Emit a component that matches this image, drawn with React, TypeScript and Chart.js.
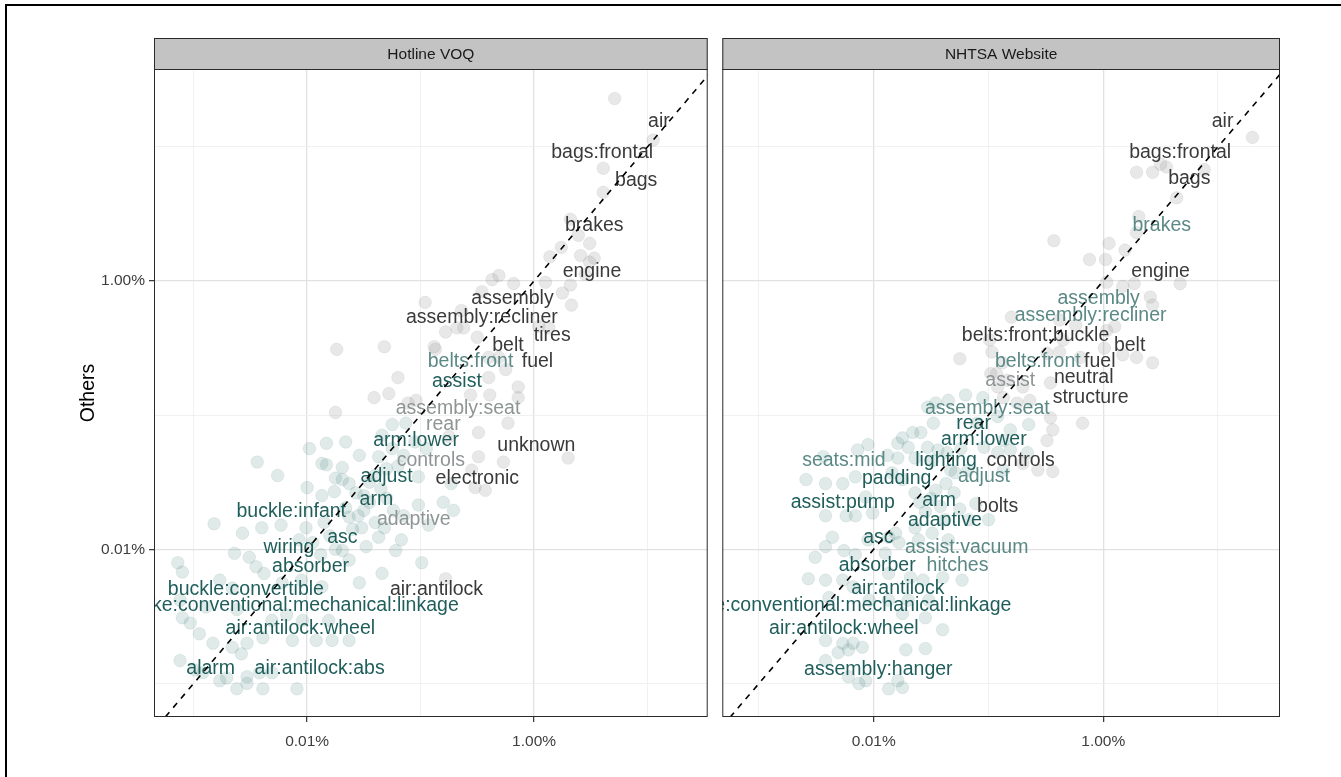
import React, { useEffect, useRef } from "react";
import { Chart, registerables } from "chart.js";

Chart.register(...registerables);

const FONT = "'Liberation Sans', Arial, Helvetica, sans-serif";

// ---- axis breaks (values in percent) ----
const majorTicks = [0.01, 1];
const minorTicks = [0.001, 0.1, 10];
const tickLabels = ["0.01%", "1.00%"];
const panelTitles = ["Hotline VOQ", "NHTSA Website"];
const yAxisTitle = "Others";

// axis limits (percent)
const hotlineXLimits = [0.000447, 33.9];
const websiteXLimits = [0.000479, 34.7];
const yLimits = [0.000562, 38.0];

// reference line y = x (percent)
const identityLine = [0.0001, 100];

// ---- points: [log10(x %), log10(y %)] ----
const hotlineGrayPoints: [number, number][] = [
  [0.71, 1.36], [1.05, 1.05], [0.61, 0.84], [0.61, 0.66], [0.32, 0.46], [0.39, 0.34], [0.49, 0.28],
  [0.24, 0.25], [0.14, 0.18], [0.41, 0.19], [0.53, 0.17], [0.49, 0.14], [-0.31, 0.04], [-0.37, 0.01],
  [0.10, -0.01], [0.32, -0.03], [-0.46, -0.08], [0.25, -0.09], [0.33, -0.18], [-0.96, -0.16],
  [-0.64, -0.22], [-0.78, -0.38], [-0.68, -0.35], [-0.62, -0.35], [-0.50, -0.42], [0.13, -0.35],
  [0.04, -0.34], [-1.74, -0.51], [-1.32, -0.49], [-0.88, -0.49], [-0.25, -0.66], [-0.31, -0.57],
  [-1.20, -0.72], [-0.87, -0.51], [-0.40, -0.57], [-0.40, -0.72], [-0.14, -0.79], [-0.14, -0.87],
  [-0.23, -1.06], [-0.39, -0.85], [-0.56, -0.85], [-1.04, -0.89], [-1.11, -0.91], [-1.28, -0.84],
  [-1.41, -0.87], [-1.75, -0.98], [-0.49, -1.13], [-0.75, -1.16], [-0.49, -1.31], [0.30, -1.32],
  [-0.55, -1.41], [-0.52, -1.54], [-0.43, -1.56], [-0.78, -2.22], [-0.27, -1.35], [-0.18, -0.02],
  [0.45, 0.05],
];

const hotlineTealPoints: [number, number][] = [
  [-1.13, -1.06], [-1.25, -1.07], [-1.34, -1.15], [-1.83, -1.21], [-1.98, -1.25], [-1.66, -1.20],
  [-1.54, -1.30], [-1.37, -1.31], [-1.87, -1.36], [-1.69, -1.39], [-1.69, -1.48], [-1.75, -1.47],
  [-1.63, -1.51], [-1.02, -1.46], [-0.73, -1.51], [-2.44, -1.35], [-2.26, -1.45], [-1.83, -1.37],
  [-1.76, -1.57], [-1.87, -1.60], [-2.00, -1.54], [-1.57, -1.58], [-1.66, -1.69], [-1.63, -1.76],
  [-1.52, -1.84], [-1.37, -1.91], [-2.82, -1.81], [-2.57, -1.88], [-2.40, -1.84], [-2.23, -1.82],
  [-2.01, -1.84], [-2.07, -1.93], [-2.64, -2.03], [-2.51, -2.06], [-3.14, -2.10], [-3.10, -2.17],
  [-2.45, -2.13], [-2.38, -2.18], [-1.88, -2.04], [-1.69, -2.01], [-1.48, -1.98], [-1.22, -2.01],
  [-0.99, -2.10], [-1.34, -2.18], [-1.54, -2.25], [-1.87, -2.28], [-2.05, -2.23], [-2.22, -2.25],
  [-2.77, -2.23], [-2.66, -2.29], [-3.12, -2.38], [-2.89, -2.43], [-2.62, -2.45], [-3.10, -2.51],
  [-3.03, -2.55], [-2.18, -2.49], [-2.31, -2.53], [-2.04, -2.53], [-1.81, -2.53], [-1.63, -2.68],
  [-1.78, -2.68], [-1.92, -2.68], [-2.13, -2.68], [-2.39, -2.66], [-2.53, -2.70], [-2.66, -2.73],
  [-2.83, -2.70], [-2.95, -2.63], [-2.58, -2.78], [-3.12, -2.83], [-2.99, -2.90], [-2.92, -2.92],
  [-2.71, -2.96], [-2.53, -2.95], [-2.42, -2.92], [-2.31, -2.92], [-2.53, -3.00], [-2.39, -3.04],
  [-2.62, -3.04], [-2.09, -3.04], [-2.77, -2.98], [-1.50, -1.71], [-1.24, -1.71], [-1.15, -1.75],
  [-1.02, -1.67], [-1.32, -1.84], [-1.17, -1.93], [-1.63, -2.08], [-0.93, -1.82], [-0.80, -1.65],
  [-0.71, -1.71], [-1.40, -1.45], [-1.45, -1.50], [-1.35, -1.55], [-1.50, -1.60], [-1.45, -1.65],
  [-1.30, -1.62], [-1.55, -1.75], [-1.40, -1.80], [-1.60, -1.85], [-1.25, -1.25], [-1.15, -1.30],
  [-1.05, -1.20], [-0.95, -1.25], [-1.20, -1.38], [-1.30, -1.40], [-1.85, -1.80], [-1.80, -1.90],
  [-1.95, -1.95], [-1.75, -2.00],
];

const websiteGrayPoints: [number, number][] = [
  [1.30, 1.07], [0.50, 0.87], [0.55, 0.85], [0.29, 0.81], [0.43, 0.81], [0.88, 0.83], [0.64, 0.62],
  [0.31, 0.48], [0.29, 0.36], [0.05, 0.28], [0.19, 0.23], [-0.43, 0.30], [-0.12, 0.16], [0.02, 0.16],
  [0.03, -0.01], [0.17, -0.04], [0.27, -0.02], [0.67, -0.02], [0.43, -0.18], [-0.80, -0.27],
  [-0.38, -0.29], [-0.24, -0.33], [0.10, -0.34], [0.01, -0.50], [0.17, -0.55], [0.29, -0.57],
  [0.43, -0.61], [-1.25, -0.58], [-0.97, -0.53], [-0.99, -0.44], [-0.38, -0.53], [-0.20, -0.57],
  [-0.93, -0.69], [0.41, -0.12], [0.03, -0.37], [-0.35, -0.44], [-0.49, -0.54], [-0.88, -0.61],
  [-0.98, -0.69], [-0.84, -0.74], [-0.92, -0.79], [-0.46, -0.76], [-0.46, -1.02], [-0.44, -1.11],
  [-0.18, -1.06], [-0.44, -1.42], [-0.70, -1.36], [-0.57, -1.41], [-0.49, -1.19], [-0.64, -0.89],
  [-0.70, -0.79], [-0.75, -0.91], [-0.87, -0.87],
];

const websiteTealPoints: [number, number][] = [
  [-1.05, -0.87], [-1.20, -0.85], [-1.35, -0.89], [-1.53, -0.94], [-1.46, -0.91], [-0.65, -1.07],
  [-0.81, -1.11], [-0.92, -1.01], [-0.87, -1.19], [-1.10, -1.06], [-1.48, -1.06], [-1.59, -1.13],
  [-1.66, -1.13], [-1.75, -1.17], [-1.70, -1.24], [-1.79, -1.21], [-1.88, -1.30], [-1.53, -1.24],
  [-1.44, -1.26], [-1.36, -1.28], [-1.24, -1.25], [-1.04, -1.24], [-0.92, -1.28], [-0.81, -1.26],
  [-0.66, -1.28], [-2.14, -1.26], [-2.05, -1.22], [-1.33, -1.41], [-1.18, -1.41], [-0.87, -1.41],
  [-2.44, -1.31], [-1.79, -1.32], [-1.64, -1.32], [-1.49, -1.34], [-1.29, -1.43], [-1.37, -1.51],
  [-1.46, -1.56], [-1.75, -1.48], [-1.84, -1.43], [-2.16, -1.46], [-2.27, -1.51], [-2.42, -1.51],
  [-2.59, -1.48], [-2.07, -1.61], [-2.01, -1.73], [-2.42, -1.75], [-2.24, -1.75], [-2.16, -1.75],
  [-1.64, -1.58], [-1.11, -1.66], [-1.00, -1.78], [-1.17, -1.78], [-1.64, -1.84], [-1.49, -1.88],
  [-1.35, -1.93], [-1.61, -1.93], [-1.78, -1.95], [-1.81, -1.88], [-1.87, -1.91], [-2.36, -1.91],
  [-2.42, -1.98], [-2.26, -2.01], [-2.16, -2.04], [-2.05, -1.93], [-1.90, -2.03], [-2.51, -2.06],
  [-2.57, -2.22], [-2.42, -2.23], [-2.27, -2.23], [-2.18, -2.28], [-1.87, -2.18], [-1.68, -2.21],
  [-1.57, -2.23], [-1.40, -2.21], [-1.23, -2.23], [-1.52, -2.38], [-1.70, -2.38], [-1.87, -2.38],
  [-2.04, -2.38], [-2.39, -2.36], [-1.75, -2.48], [-1.55, -2.51], [-1.40, -2.60], [-2.42, -2.68],
  [-2.27, -2.70], [-2.18, -2.70], [-2.10, -2.73], [-2.22, -2.75], [-2.31, -2.77], [-1.72, -2.75],
  [-1.55, -2.74], [-2.13, -3.00], [-2.22, -2.95], [-2.07, -2.98], [-1.79, -2.98], [-1.75, -3.03],
  [-1.87, -3.04], [-2.42, -2.83], [-1.50, -1.62], [-1.42, -1.68], [-1.55, -1.72], [-1.38, -1.78],
  [-1.60, -1.65], [-1.30, -1.58], [-1.25, -1.70],
];

// ---- text labels: [text, log10(x %), log10(y %), tone] ----
type Label = [string, number, number, string];

const hotlineLabels: Label[] = [
  ["air", 1.10, 1.19, "dark"],
  ["bags:frontal", 0.60, 0.96, "dark"],
  ["bags", 0.90, 0.75, "dark"],
  ["brakes", 0.53, 0.41, "dark"],
  ["engine", 0.51, 0.07, "dark"],
  ["assembly", -0.19, -0.13, "dark"],
  ["assembly:recliner", -0.46, -0.27, "dark"],
  ["tires", 0.16, -0.41, "dark"],
  ["belt", -0.23, -0.48, "dark"],
  ["belts:front", -0.56, -0.60, "mid"],
  ["fuel", 0.03, -0.60, "dark"],
  ["assist", -0.68, -0.75, "teal"],
  ["assembly:seat", -0.67, -0.95, "light"],
  ["rear", -0.80, -1.07, "light"],
  ["arm:lower", -1.04, -1.19, "teal"],
  ["unknown", 0.02, -1.23, "dark"],
  ["controls", -0.91, -1.34, "light"],
  ["adjust", -1.30, -1.46, "teal"],
  ["electronic", -0.50, -1.47, "dark"],
  ["arm", -1.39, -1.63, "teal"],
  ["buckle:infant", -2.14, -1.72, "teal"],
  ["adaptive", -1.06, -1.78, "light"],
  ["asc", -1.69, -1.91, "teal"],
  ["wiring", -2.16, -1.99, "teal"],
  ["absorber", -1.97, -2.13, "teal"],
  ["buckle:convertible", -2.54, -2.30, "teal"],
  ["air:antilock", -0.86, -2.30, "dark"],
  ["brake:conventional:mechanical:linkage", -2.14, -2.42, "teal"],
  ["air:antilock:wheel", -2.06, -2.59, "teal"],
  ["alarm", -2.85, -2.89, "teal"],
  ["air:antilock:abs", -1.89, -2.89, "teal"],
];

const websiteLabels: Label[] = [
  ["air", 1.04, 1.19, "dark"],
  ["bags:frontal", 0.67, 0.96, "dark"],
  ["bags", 0.75, 0.76, "dark"],
  ["brakes", 0.51, 0.41, "mid"],
  ["engine", 0.50, 0.07, "dark"],
  ["assembly", -0.04, -0.13, "mid"],
  ["assembly:recliner", -0.11, -0.26, "mid"],
  ["belts:front:buckle", -0.59, -0.41, "dark"],
  ["belt", 0.23, -0.48, "dark"],
  ["belts:front", -0.57, -0.60, "mid"],
  ["fuel", -0.03, -0.60, "dark"],
  ["neutral", -0.17, -0.72, "dark"],
  ["assist", -0.81, -0.74, "light"],
  ["structure", -0.11, -0.87, "dark"],
  ["assembly:seat", -1.01, -0.95, "mid"],
  ["rear", -1.13, -1.06, "teal"],
  ["arm:lower", -1.04, -1.18, "teal"],
  ["seats:mid", -2.26, -1.34, "mid"],
  ["lighting", -1.37, -1.34, "teal"],
  ["controls", -0.72, -1.34, "dark"],
  ["padding", -1.80, -1.47, "teal"],
  ["adjust", -1.04, -1.46, "mid"],
  ["assist:pump", -2.27, -1.65, "teal"],
  ["arm", -1.43, -1.64, "teal"],
  ["bolts", -0.92, -1.68, "dark"],
  ["adaptive", -1.38, -1.79, "teal"],
  ["asc", -1.96, -1.91, "teal"],
  ["assist:vacuum", -1.19, -1.99, "mid"],
  ["absorber", -1.97, -2.12, "teal"],
  ["hitches", -1.27, -2.12, "mid"],
  ["air:antilock", -1.79, -2.29, "teal"],
  ["brake:conventional:mechanical:linkage", -2.26, -2.42, "teal"],
  ["air:antilock:wheel", -2.26, -2.59, "teal"],
  ["assembly:hanger", -1.96, -2.90, "teal"],
];

const toneColors: Record<string, string> = {
  dark: "#3a3a3a",
  teal: "#1f5e5b",
  mid: "#5b8986",
  light: "#8e9595",
};

const toPoints = (arr: [number, number][]) => arr.map(([lx, ly]) => ({ x: 10 ** lx, y: 10 ** ly }));
const isMajor = (v: number) => majorTicks.some((m) => Math.abs(m - v) < 1e-12);

function drawLabels(chart: any, labels: Label[]) {
  const { ctx, chartArea: a, scales } = chart;
  ctx.save();
  ctx.beginPath();
  ctx.rect(a.left, a.top, a.right - a.left, a.bottom - a.top);
  ctx.clip();
  ctx.font = `19.5px ${FONT}`;
  ctx.textAlign = "center";
  ctx.textBaseline = "middle";
  for (const [text, lx, ly, tone] of labels) {
    ctx.fillStyle = toneColors[tone];
    ctx.fillText(text, scales.x.getPixelForValue(10 ** lx), scales.y.getPixelForValue(10 ** ly));
  }
  ctx.restore();
}

const panelDecor = {
  id: "panelDecor",
  afterDatasetDraw(chart: any, args: any, opts: any) {
    if (chart.data.datasets[args.index].label !== "teal") return;
    drawLabels(chart, opts.labels);
  },
  afterDraw(chart: any, _args: any, opts: any) {
    const { ctx, chartArea: a } = chart;
    const h = 31;
    ctx.save();
    ctx.fillStyle = "#c3c3c3";
    ctx.fillRect(a.left, a.top - h, a.right - a.left, h);
    ctx.strokeStyle = "#2a2a2a";
    ctx.lineWidth = 1;
    ctx.strokeRect(a.left + 0.5, a.top - h + 0.5, a.right - a.left - 1, h);
    ctx.strokeRect(a.left + 0.5, a.top + 0.5, a.right - a.left - 1, a.bottom - a.top - 1);
    ctx.fillStyle = "#1a1a1a";
    ctx.font = `15.5px ${FONT}`;
    ctx.textAlign = "center";
    ctx.textBaseline = "middle";
    ctx.fillText(opts.title, (a.left + a.right) / 2, a.top - h / 2 + 1);
    ctx.restore();
  },
};

function logAxis(limits: number[], showLabels: boolean, pad: number, extra: any = {}) {
  return {
    type: "logarithmic",
    min: limits[0],
    max: limits[1],
    afterBuildTicks: (scale: any) => {
      scale.ticks = [...minorTicks, ...majorTicks].sort((p, q) => p - q).map((v) => ({ value: v }));
    },
    ticks: {
      display: showLabels,
      autoSkip: false,
      maxRotation: 0,
      minRotation: 0,
      color: "#3d3d3d",
      padding: pad,
      font: { size: 15.5, family: FONT },
      callback: (v: number) => {
        const i = majorTicks.findIndex((m) => Math.abs(m - v) < 1e-12);
        return i >= 0 ? tickLabels[i] : "";
      },
    },
    grid: {
      color: (c: any) => (c.tick && isMajor(c.tick.value) ? "#e1e1e1" : "#eeeeee"),
      lineWidth: (c: any) => (c.tick && isMajor(c.tick.value) ? 1.3 : 0.8),
      drawTicks: showLabels,
      tickLength: 5,
      tickWidth: 1.2,
      tickColor: (c: any) => (c.tick && isMajor(c.tick.value) ? "#333333" : "rgba(0,0,0,0)"),
    },
    border: { display: false },
    ...extra,
  };
}

function buildConfig(panel: number): any {
  const first = panel === 0;
  const gray = first ? hotlineGrayPoints : websiteGrayPoints;
  const teal = first ? hotlineTealPoints : websiteTealPoints;
  return {
    type: "scatter",
    data: {
      datasets: [
        {
          label: "identity",
          data: identityLine.map((v) => ({ x: v, y: v })),
          showLine: true,
          borderColor: "#000000",
          borderWidth: 1.6,
          borderDash: [6, 6],
          pointRadius: 0,
          fill: false,
          clip: 0,
          order: 0,
        },
        {
          label: "teal",
          data: toPoints(teal),
          pointRadius: 6.3,
          backgroundColor: "rgba(60,125,120,0.16)",
          borderColor: "rgba(60,125,120,0.10)",
          borderWidth: 1,
          order: 1,
        },
        {
          label: "gray",
          data: toPoints(gray),
          pointRadius: 6.3,
          backgroundColor: "rgba(140,140,140,0.2)",
          borderColor: "rgba(140,140,140,0.12)",
          borderWidth: 1,
          order: 2,
        },
      ],
    },
    options: {
      animation: false,
      responsive: false,
      devicePixelRatio: 1,
      events: [],
      layout: {
        padding: first
          ? { left: 77, right: 5, top: 69, bottom: 0 }
          : { left: 6, right: 61, top: 69, bottom: 0 },
      },
      plugins: {
        legend: { display: false },
        tooltip: { enabled: false },
        panelDecor: { title: panelTitles[panel], labels: first ? hotlineLabels : websiteLabels },
      },
      scales: {
        x: logAxis(first ? hotlineXLimits : websiteXLimits, true, 10, {
          position: "bottom",
          afterFit: (s: any) => {
            s.height = 60;
          },
        }),
        y: logAxis(yLimits, first, 4, {
          position: "left",
          title: {
            display: first,
            text: yAxisTitle,
            color: "#000000",
            font: { size: 19.5, family: FONT },
            padding: { top: 0, bottom: 0 },
          },
          afterFit: (s: any) => {
            s.width = first ? 77 : 0;
          },
        }),
      },
    },
    plugins: [panelDecor],
  };
}

export default function App() {
  const c1 = useRef<HTMLCanvasElement>(null);
  const c2 = useRef<HTMLCanvasElement>(null);
  useEffect(() => {
    const ch1 = new Chart(c1.current as HTMLCanvasElement, buildConfig(0));
    const ch2 = new Chart(c2.current as HTMLCanvasElement, buildConfig(1));
    return () => {
      ch1.destroy();
      ch2.destroy();
    };
  }, []);
  return (
    <div
      style={{
        position: "fixed",
        left: 0,
        top: 0,
        width: 1341,
        height: 777,
        background: "#ffffff",
        overflow: "hidden",
      }}
    >
      <div
        style={{
          position: "absolute",
          left: 5,
          top: 4,
          right: 0,
          bottom: 0,
          borderTop: "2px solid #000",
          borderLeft: "2px solid #000",
        }}
      />
      <canvas
        ref={c1}
        width={715}
        height={777}
        style={{ position: "absolute", left: 0, top: 0, width: 715, height: 777 }}
      />
      <canvas
        ref={c2}
        width={626}
        height={777}
        style={{ position: "absolute", left: 715, top: 0, width: 626, height: 777 }}
      />
    </div>
  );
}
